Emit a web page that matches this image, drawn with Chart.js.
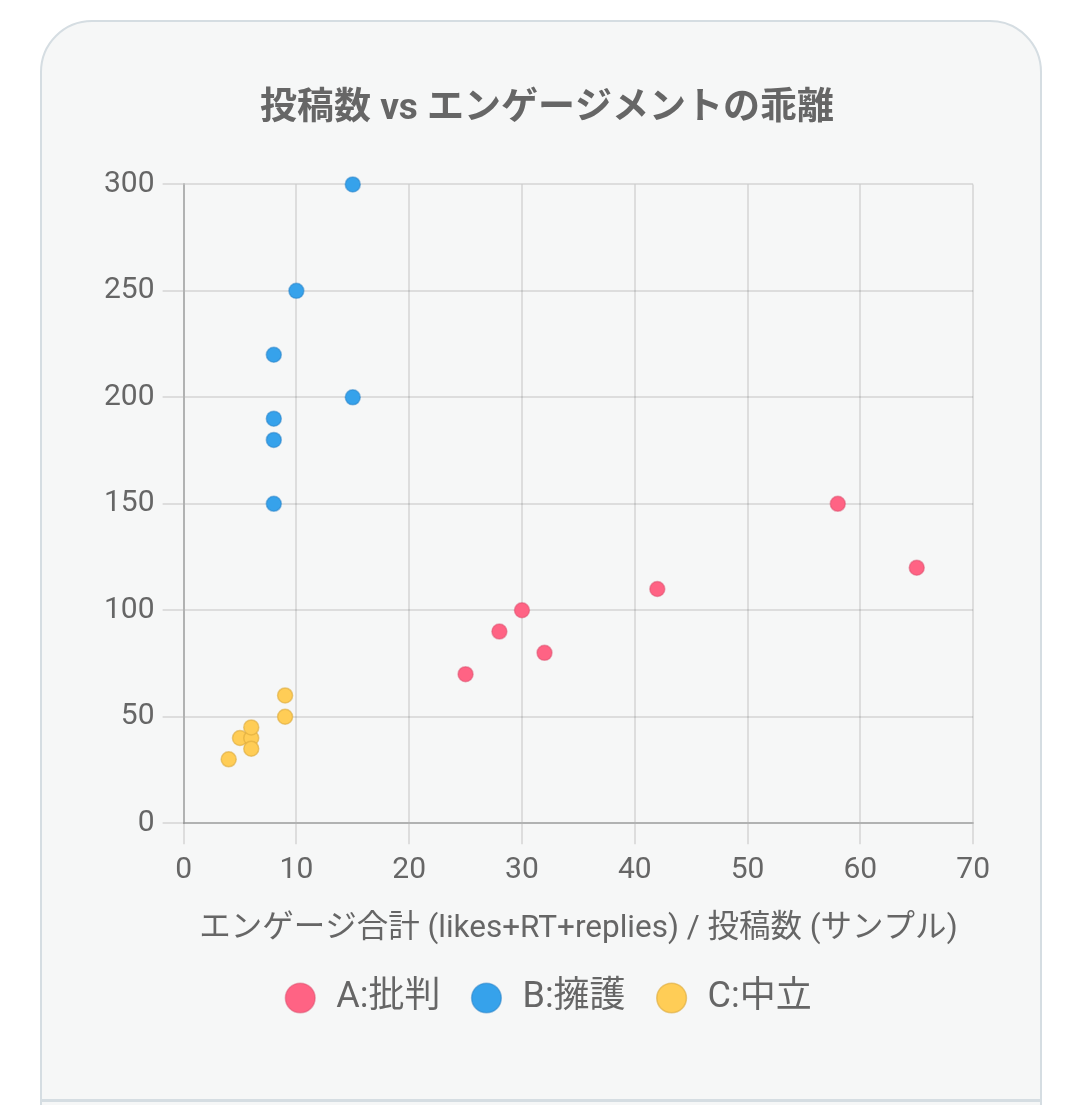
<!DOCTYPE html>
<html>
<head>
<meta charset="utf-8">
<script src="https://cdn.jsdelivr.net/npm/chart.js@4.4.1/dist/chart.umd.min.js"></script>
<style>
  body { margin: 0; background: #fff; width: 1080px; height: 1105px; overflow: hidden; }
  .card {
    position: absolute; left: 40px; top: 20px; width: 998px; height: 1120px;
    background: #f6f7f7; border: 2px solid #d5dde2; border-radius: 52px 52px 0 0;
  }
  .sep { position: absolute; left: 0; right: 0; top: 1077px; border-top: 3px solid #d5dde2; }
  .wrap { position: absolute; left: 96px; top: 73px; width: 902px; height: 953px; }
</style>
</head>
<body>
<div class="card"><div class="sep"></div></div>
<div class="wrap"><canvas id="myChart"></canvas></div>
<script>
// engagement / post, post count
var seriesNames = ['A:批判', 'B:擁護', 'C:中立']
var aX = [25, 28, 30, 32, 42, 58, 65]
var aY = [70, 90, 100, 80, 110, 150, 120]
var bX = [8, 8, 8, 8, 10, 15, 15]
var bY = [150, 180, 190, 220, 250, 200, 300]
var cX = [4, 5, 6, 6, 6, 9, 9]
var cY = [30, 40, 40, 45, 35, 50, 60]

function toPoints(xs, ys){
    return xs.map((x, i) => ({ x: x, y: ys[i] }))
}

const font = "Roboto, 'Noto Sans CJK JP', sans-serif"
Chart.defaults.font.family = font
Chart.defaults.color = '#666'

const ctx = document.getElementById('myChart');
const myChart = new Chart(ctx, {
    type: 'scatter',
    data: {
        datasets: [{
            label: seriesNames[0],
            data: toPoints(aX, aY),
            backgroundColor: 'rgba(255, 99, 132, 1)',
            borderColor: 'rgba(220, 80, 110, 0.5)',
            clip: false
        }, {
            label: seriesNames[1],
            data: toPoints(bX, bY),
            backgroundColor: 'rgba(54, 162, 235, 1)',
            borderColor: 'rgba(40, 130, 200, 0.5)',
            clip: false
        }, {
            label: seriesNames[2],
            data: toPoints(cX, cY),
            backgroundColor: 'rgba(255, 205, 86, 1)',
            borderColor: 'rgba(220, 170, 60, 0.6)',
            clip: false
        }]
    },
    options: {
        responsive: true,
        maintainAspectRatio: false,
        animation: false,
        elements: { point: { radius: 7.5, borderWidth: 1.5 } },
        plugins: {
            title: {
                display: true,
                text: '投稿数 vs エンゲージメントの乖離',
                font: { size: 37, weight: 'bold' },
                padding: { top: 15, bottom: 52 }
            },
            legend: {
                position: 'bottom',
                labels: {
                    usePointStyle: true,
                    pointStyle: 'circle',
                    boxWidth: 36, boxHeight: 21,
                    font: { size: 36 },
                    padding: 28
                }
            }
        },
        scales: {
            x: {
                min: 0, max: 70,
                ticks: { stepSize: 10, font: { size: 30 }, padding: 8 },
                grid: { tickLength: 21, color: 'rgba(0,0,0,0.1)', lineWidth: 2 },
                border: { color: 'rgba(0,0,0,0.2)', width: 2 },
                title: { display: true, text: 'エンゲージ合計 (likes+RT+replies) / 投稿数 (サンプル)', font: { size: 31.5 }, padding: { top: 14 } }
            },
            y: {
                min: 0, max: 300,
                ticks: { stepSize: 50, font: { size: 30 }, padding: 8 },
                grid: { tickLength: 21, color: 'rgba(0,0,0,0.1)', lineWidth: 2 },
                border: { color: 'rgba(0,0,0,0.2)', width: 2 }
            }
        }
    }
});
</script>
</body>
</html>
